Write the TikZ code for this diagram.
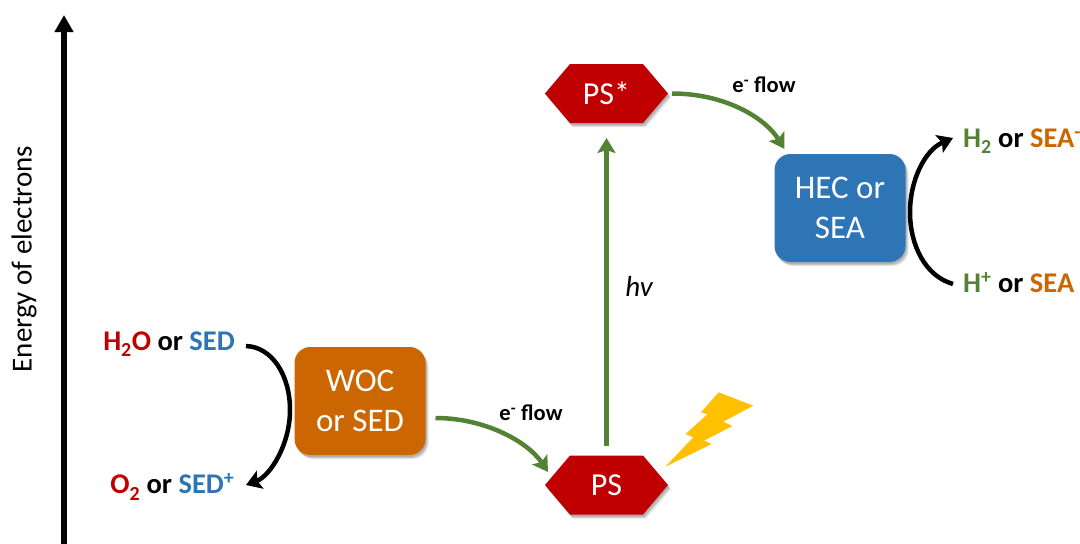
\documentclass[tikz,border=0pt]{standalone}
\usepackage{fontspec}
\setmainfont{Carlito}
\usetikzlibrary{arrows.meta,shadows}
\definecolor{psred}{HTML}{C00000}
\definecolor{hecblue}{HTML}{2E75B6}
\definecolor{wocorange}{HTML}{CC6600}
\definecolor{flowgreen}{HTML}{548235}
\definecolor{boltyellow}{HTML}{FFC000}
\newcommand{\lowtwo}{\textsubscript{\raisebox{-.3ex}{2}}}
\makeatletter
\pgfdeclareshape{hexbox}{
  \inheritsavedanchors[from=rectangle]
  \inheritanchorborder[from=rectangle]
  \inheritanchor[from=rectangle]{center}
  \inheritanchor[from=rectangle]{north}
  \inheritanchor[from=rectangle]{south}
  \inheritanchor[from=rectangle]{east}
  \inheritanchor[from=rectangle]{west}
  \inheritanchor[from=rectangle]{north west}
  \inheritanchor[from=rectangle]{north east}
  \inheritanchor[from=rectangle]{south west}
  \inheritanchor[from=rectangle]{south east}
  \inheritanchor[from=rectangle]{base}
  \backgroundpath{
    \southwest \pgf@xa=\pgf@x \pgf@ya=\pgf@y
    \northeast \pgf@xb=\pgf@x \pgf@yb=\pgf@y
    \pgf@yc=.5\pgf@ya \advance\pgf@yc by .5\pgf@yb
    \pgfpathmoveto{\pgfqpoint{\pgf@xa}{\pgf@yc}}
    \pgfpathlineto{\pgfpoint{\pgf@xa+25pt}{\pgf@yb}}
    \pgfpathlineto{\pgfpoint{\pgf@xb-25pt}{\pgf@yb}}
    \pgfpathlineto{\pgfqpoint{\pgf@xb}{\pgf@yc}}
    \pgfpathlineto{\pgfpoint{\pgf@xb-25pt}{\pgf@ya}}
    \pgfpathlineto{\pgfpoint{\pgf@xa+25pt}{\pgf@ya}}
    \pgfpathclose
  }
}
\makeatother
\tikzset{
  softshadow/.style={
    general shadow={shadow xshift=3pt,shadow yshift=-4pt,fill=black,opacity=.10},
    general shadow={shadow xshift=2pt,shadow yshift=-3pt,fill=black,opacity=.12},
    general shadow={shadow xshift=1pt,shadow yshift=-2pt,fill=black,opacity=.12}},
  catbox/.style={softshadow,rounded corners=16pt,minimum width=131pt,minimum height=108pt,inner sep=0pt,outer sep=0pt,
    text=white,align=center,font=\fontsize{33}{39.5}\selectfont},
  hexa/.style={softshadow,hexbox,fill=psred,minimum width=123pt,minimum height=59pt,inner sep=0pt,outer sep=0pt,
    text=white,font=\fontsize{32}{34}\selectfont},
  species/.style={inner sep=0pt,font=\bfseries\fontsize{28.5}{32}\selectfont},
  flowlabel/.style={inner sep=0pt,font=\bfseries\fontsize{22.5}{25}\selectfont},
  greenarrow/.style={draw=flowgreen,line width=4.5pt,-{Stealth[length=15pt,width=18pt,inset=3pt]}},
  blackarrow/.style={draw=black,line width=4.5pt,-{Stealth[length=15pt,width=19pt,inset=3pt]}},
  axisarrow/.style={draw=black,line width=6pt,-{Triangle[length=17pt,width=18pt]}}
}
\begin{document}
\begin{tikzpicture}[x=1pt,y=-1pt]
\path[use as bounding box,fill=white] (0,0) rectangle (1080,544);
% energy axis
\coordinate (axisbottom) at (64,550);
\coordinate (axistop) at (64,15);
\draw[axisarrow] (axisbottom) -- (axistop);
\node[rotate=90,inner sep=0pt,font=\fontsize{29}{32}\selectfont] (energy) at (24,259) {Energy of electrons};
% boxes
\node[catbox,fill=wocorange] (woc) at (360,401) {WOC\\or SED};
\node[catbox,fill=hecblue] (hec) at (840,208) {HEC or\\SEA};
\node[hexa] (psstar) at (606.5,93.5) {PS*};
\node[hexa] (ps) at (606.5,485) {PS};
% bolt
\fill[boltyellow] (718.7,392.3) -- (753.3,405.7) -- (723.3,421.7) -- (732.3,426) -- (704,440.7) -- (711.7,444) -- (665.3,466.7) -- (693.3,437.3) -- (685.7,434) -- (707.3,414.3) -- (701,412.3) -- cycle;
% species
\node[species,anchor=east] (h2o) at (235,344) {\textcolor{psred}{H\lowtwo O} or \textcolor{hecblue}{SED}};
\node[species,anchor=east] (o2) at (234.5,487) {\textcolor{psred}{O\lowtwo} or \textcolor{hecblue}{SED\textsuperscript{+}}};
\node[species,anchor=west] (h2) at (963,141) {\textcolor{flowgreen}{H\lowtwo} or \textcolor{wocorange}{SEA\textsuperscript{-}}};
\node[species,anchor=west] (hplus) at (963,283) {\textcolor{flowgreen}{H\textsuperscript{+}} or \textcolor{wocorange}{SEA}};
% labels
\node[flowlabel] (flowa) at (531,413) {e\textsuperscript{-} flow};
\node[flowlabel] (flowb) at (764,85) {e\textsuperscript{-} flow};
\node[inner sep=0pt,font=\itshape\fontsize{29}{32}\selectfont] (hv) at (639,286) {hv};
% connectors
\draw[greenarrow] ([xshift=10pt,yshift=-17pt]woc.east) .. controls +(50,0) and +(-20,-30) .. ([xshift=3pt,yshift=13pt]ps.west);
\draw[greenarrow] ([xshift=4pt]psstar.east) .. controls +(52,0) and +(-20,-32) .. ([xshift=10pt,yshift=5pt]hec.north west);
\draw[greenarrow] ([yshift=10pt]ps.north) -- ([yshift=-15pt]psstar.south);
\coordinate (leftbulge) at (290,410);
\coordinate (rightbulge) at (910,212);
\draw[blackarrow] ([xshift=11pt,yshift=-2pt]h2o.east) .. controls (272,347) and (290,375) .. (leftbulge) .. controls (290,445) and (270,476) .. ([xshift=11.5pt,yshift=2pt]o2.east);
\draw[blackarrow] ([xshift=-10pt,yshift=-1pt]hplus.west) .. controls (925,276) and (910,245) .. (rightbulge) .. controls (910,180) and (925,150) .. ([xshift=-10pt,yshift=3pt]h2.west);
\end{tikzpicture}
\end{document}
